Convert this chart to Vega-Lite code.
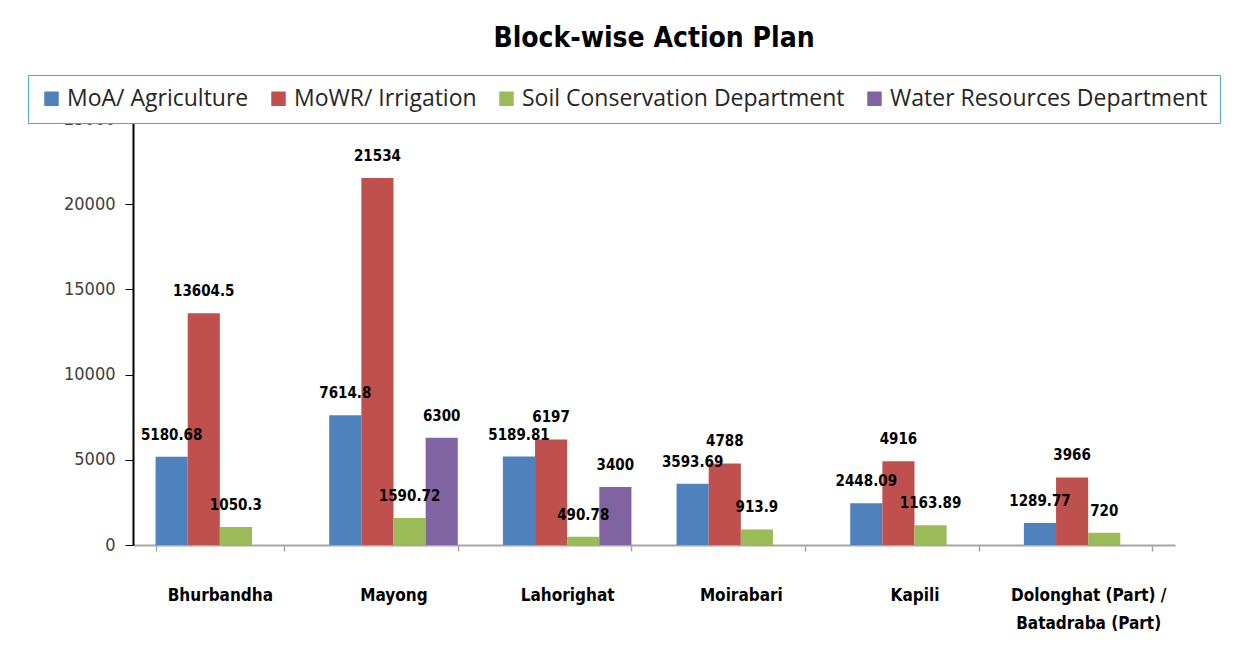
{
  "$schema": "https://vega.github.io/schema/vega-lite/v6.json",
  "width": 1042,
  "height": 426,
  "autosize": {"type": "none"},
  "padding": {"left": 133, "top": 119, "right": 75, "bottom": 111},
  "background": "white",
  "title": {
    "text": "Block-wise Action Plan",
    "font": "DejaVu Sans Condensed",
    "fontSize": 28,
    "fontWeight": "bold",
    "color": "black",
    "anchor": "middle",
    "offset": 22
  },
  "data": {
    "values": [
      {"block": "Bhurbandha", "dept": "MoA/ Agriculture", "value": 5180.68},
      {"block": "Bhurbandha", "dept": "MoWR/ Irrigation", "value": 13604.5},
      {"block": "Bhurbandha", "dept": "Soil Conservation Department", "value": 1050.3},
      {"block": "Mayong", "dept": "MoA/ Agriculture", "value": 7614.8},
      {"block": "Mayong", "dept": "MoWR/ Irrigation", "value": 21534},
      {"block": "Mayong", "dept": "Soil Conservation Department", "value": 1590.72},
      {"block": "Mayong", "dept": "Water Resources Department", "value": 6300},
      {"block": "Lahorighat", "dept": "MoA/ Agriculture", "value": 5189.81},
      {"block": "Lahorighat", "dept": "MoWR/ Irrigation", "value": 6197},
      {"block": "Lahorighat", "dept": "Soil Conservation Department", "value": 490.78},
      {"block": "Lahorighat", "dept": "Water Resources Department", "value": 3400},
      {"block": "Moirabari", "dept": "MoA/ Agriculture", "value": 3593.69},
      {"block": "Moirabari", "dept": "MoWR/ Irrigation", "value": 4788},
      {"block": "Moirabari", "dept": "Soil Conservation Department", "value": 913.9},
      {"block": "Kapili", "dept": "MoA/ Agriculture", "value": 2448.09},
      {"block": "Kapili", "dept": "MoWR/ Irrigation", "value": 4916},
      {"block": "Kapili", "dept": "Soil Conservation Department", "value": 1163.89},
      {"block": "Dolonghat (Part) / Batadraba (Part)", "dept": "MoA/ Agriculture", "value": 1289.77},
      {"block": "Dolonghat (Part) / Batadraba (Part)", "dept": "MoWR/ Irrigation", "value": 3966},
      {"block": "Dolonghat (Part) / Batadraba (Part)", "dept": "Soil Conservation Department", "value": 720}
    ]
  },
  "encoding": {
    "x": {
      "field": "block",
      "type": "nominal",
      "sort": null,
      "scale": {"paddingInner": 0.26, "paddingOuter": 0.13},
      "axis": {
        "title": null,
        "labelAngle": 0,
        "labelFont": "DejaVu Sans Condensed",
        "labelFontWeight": "bold",
        "labelFontSize": 17,
        "labelColor": "black",
        "labelPadding": 36,
        "labelBaseline": "top",
        "labelLineHeight": 28,
        "labelExpr": "datum.label == 'Dolonghat (Part) / Batadraba (Part)' ? ['Dolonghat (Part) /', 'Batadraba (Part)'] : datum.label",
        "domainColor": "#a6a6a6",
        "domainWidth": 2,
        "tickColor": "#a6a6a6",
        "tickWidth": 1.5,
        "tickSize": 6,
        "tickBand": "extent"
      }
    },
    "xOffset": {
      "field": "dept",
      "type": "nominal",
      "sort": ["MoA/ Agriculture", "MoWR/ Irrigation", "Soil Conservation Department", "Water Resources Department"],
      "scale": {"paddingInner": 0}
    },
    "y": {
      "field": "value",
      "type": "quantitative",
      "scale": {"domain": [0, 25000], "nice": false},
      "axis": {
        "title": null,
        "values": [0, 5000, 10000, 15000, 20000, 25000],
        "format": "d",
        "grid": false,
        "labelFont": "DejaVu Sans Condensed",
        "labelFontSize": 18,
        "labelColor": "#404040",
        "labelPadding": 10,
        "domainColor": "black",
        "domainWidth": 2,
        "tickColor": "black",
        "tickSize": 8
      }
    }
  },
  "layer": [
    {
      "mark": {"type": "bar"},
      "encoding": {
        "color": {
          "field": "dept",
          "type": "nominal",
          "sort": ["MoA/ Agriculture", "MoWR/ Irrigation", "Soil Conservation Department", "Water Resources Department"],
          "scale": {
            "domain": ["MoA/ Agriculture", "MoWR/ Irrigation", "Soil Conservation Department", "Water Resources Department"],
            "range": ["#4f81bd", "#c0504d", "#9bbb59", "#8064a2"]
          },
          "legend": {
            "title": null,
            "orient": "none",
            "legendX": -105,
            "legendY": -44,
            "direction": "horizontal",
            "columns": 4,
            "symbolType": "square",
            "symbolSize": 210,
            "symbolStrokeWidth": 0,
            "labelFont": "Open Sans",
            "labelFontSize": 23,
            "labelColor": "#262626",
            "labelLimit": 400,
            "columnPadding": 18,
            "padding": 12,
            "strokeColor": "#4bacc6",
            "fillColor": "white"
          }
        }
      }
    },
    {
      "mark": {
        "type": "text",
        "baseline": "bottom",
        "dy": -14,
        "font": "DejaVu Sans Condensed",
        "fontWeight": "bold",
        "fontSize": 15,
        "color": "black"
      },
      "encoding": {
        "text": {"field": "value", "type": "quantitative"}
      }
    }
  ],
  "config": {"view": {"stroke": null}}
}
